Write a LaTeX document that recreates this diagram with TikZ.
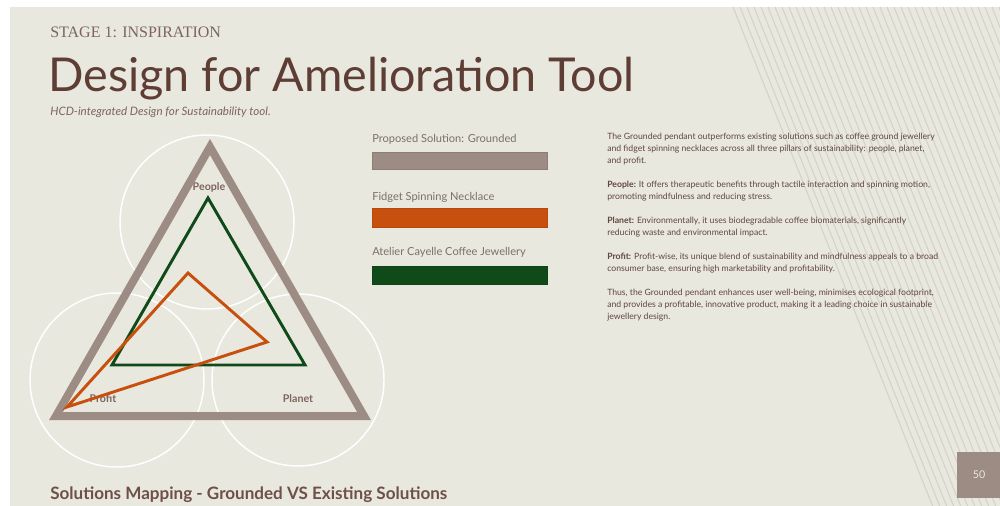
\documentclass[tikz,border=0pt]{standalone}
\usepackage{fontspec}
\setmainfont{Lato}
\newfontfamily\stagefont{Liberation Serif}

\definecolor{slidebg}{HTML}{E8E8DF}
\definecolor{stripe}{HTML}{D5D3C8}
\definecolor{taupe}{HTML}{9C8C83}
\definecolor{rust}{HTML}{C8500E}
\definecolor{pine}{HTML}{0F4A18}
\definecolor{cocoa}{HTML}{5E3D34}
\definecolor{bodytext}{HTML}{62463F}
\definecolor{keygrey}{HTML}{7D6F69}

\begin{document}
\begin{tikzpicture}[x=0.75pt,y=-0.75pt,line join=miter,
    pillar/.style={font=\fontsize{8}{9}\selectfont\bfseries,text=cocoa!80,inner sep=0pt},
    keytext/.style={anchor=base west,inner sep=0pt,font=\fontsize{8.3}{9}\selectfont,text=keygrey}]
  \useasboundingbox (0,0) rectangle (1000,506);
  \fill[white] (0,0) rectangle (1000,506);
  \fill[slidebg] (10,7) rectangle (1000,506);

  % striped band on the right
  \begin{scope}
    \clip (10,7) rectangle (1000,506);
    \foreach \i in {0,...,42}
      \draw[stripe,line width=0.8pt] ({733+7*\i},7) -- ({933+7*\i},507);
  \end{scope}

  % heading
  \path (50,38) node[anchor=base west,inner sep=0pt,font=\stagefont\fontsize{12}{14}\selectfont,text=cocoa!80] (stage) {STAGE 1: INSPIRATION};
  \path (48,92) node[anchor=base west,inner sep=0pt,font=\fontsize{35}{40}\selectfont,text=cocoa] (title) {Design for Amelioration Tool};
  \path (50,116) node[anchor=base west,inner sep=0pt,font=\fontsize{8.7}{10}\selectfont\itshape,text=cocoa!80] (subtitle) {HCD-integrated Design for Sustainability tool.};

  % the three pillars
  \draw[white,line width=1.1pt] (207,222) circle (87);
  \draw[white,line width=1.1pt] (117,380) circle (87);
  \draw[white,line width=1.1pt] (298,380) circle (86);

  \path (209,187) node[pillar] (people) {People};
  \path (103,399) node[pillar] (profit) {Profit};
  \path (298,399) node[pillar] (planet) {Planet};

  % Grounded
  \coordinate (gTop) at (210,147);
  \coordinate (gLeft) at (56,416);
  \coordinate (gRight) at (364,416);
  \draw[taupe,line width=6pt] (gTop) -- (gRight) -- (gLeft) -- cycle;

  % coffee jewellery
  \coordinate (cTop) at (208,198);
  \coordinate (cLeft) at (112,365);
  \coordinate (cRight) at (305,365);
  \draw[pine,line width=2.2pt] (cTop) -- (cRight) -- (cLeft) -- cycle;

  % fidget necklace
  \coordinate (fTop) at (188,273);
  \coordinate (fRight) at (267,342);
  \coordinate (fLeft) at (67,407);
  \draw[rust,line width=2.2pt] (fTop) -- (fRight) -- (fLeft) -- cycle;

  % legend
  \path (372,143) node[keytext] (keyGrounded) {Proposed Solution: Grounded};
  \draw[fill=taupe,draw=taupe!90!black,line width=0.3pt] (372,152) rectangle (547,169);
  \path (372,200) node[keytext] (keyFidget) {Fidget Spinning Necklace};
  \draw[fill=rust,draw=rust!90!black,line width=0.3pt] (372,208) rectangle (547,227);
  \path (372,256) node[keytext] (keyCoffee) {Atelier Cayelle Coffee Jewellery};
  \draw[fill=pine,draw=pine!90!black,line width=0.3pt] (372,266) rectangle (547,284);

  % summary text
  \path (607,133) node[anchor=north west,align=left,inner sep=0pt,font=\fontsize{6.5}{9}\selectfont,text=bodytext] (summary) {%
    The Grounded pendant outperforms existing solutions such as coffee ground jewellery\\
    and fidget spinning necklaces across all three pillars of sustainability: people, planet,\\
    and profit.\\[9pt]
    \textbf{People:} It offers therapeutic benefits through tactile interaction and spinning motion,\\
    promoting mindfulness and reducing stress.\\[9pt]
    \textbf{Planet:} Environmentally, it uses biodegradable coffee biomaterials, significantly\\
    reducing waste and environmental impact.\\[9pt]
    \textbf{Profit:} Profit-wise, its unique blend of sustainability and mindfulness appeals to a broad\\
    consumer base, ensuring high marketability and profitability.\\[9pt]
    Thus, the Grounded pendant enhances user well-being, minimises ecological footprint,\\
    and provides a profitable, innovative product, making it a leading choice in sustainable\\
    jewellery design.};

  % caption and page number
  \path (50,499) node[anchor=base west,inner sep=0pt,font=\fontsize{12.8}{14}\selectfont\bfseries,text=cocoa!90] (caption) {Solutions Mapping - Grounded VS Existing Solutions};
  \fill[taupe] (957,452) rectangle (1000,498);
  \path (979,475) node[font=\fontsize{8}{9}\selectfont,text=slidebg] (pagenum) {50};
\end{tikzpicture}
\end{document}
